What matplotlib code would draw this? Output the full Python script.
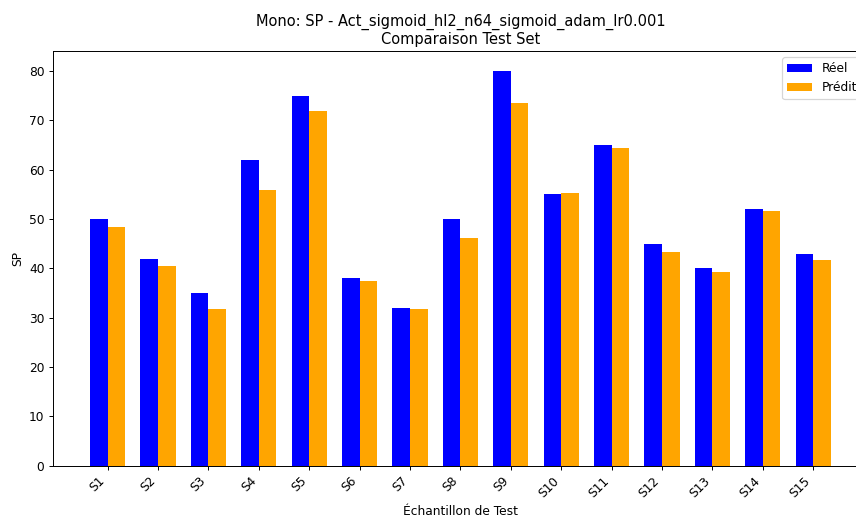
import numpy as np
import matplotlib
matplotlib.use("Agg")
import matplotlib.pyplot as plt

samples = [f"S{i}" for i in range(1, 16)]
reel = [50, 42, 35, 62, 75, 38, 32, 50, 80, 55, 65, 45, 40, 52, 43]
predit = [48.3, 40.5, 31.8, 55.8, 71.8, 37.5, 31.8, 46.1, 73.6, 55.3, 64.4, 43.4, 39.3, 51.7, 41.6]

x = np.arange(len(samples))
width = 0.35

DPI = 88
fig = plt.figure(figsize=(856 / DPI, 515 / DPI), dpi=DPI)
# axes run a little past the right edge, as in the reference
ax = fig.add_axes([0.0619, 0.0957, 0.952, 0.8047])

ax.bar(x - width / 2, reel, width, label="Réel", color="blue")
ax.bar(x + width / 2, predit, width, label="Prédit", color="orange")

ax.set_xticks(x)
ax.set_xticklabels(samples, rotation=45, ha="right")
ax.set_xlabel("Échantillon de Test")
ax.set_ylabel("SP")
ax.set_title("Mono: SP - Act_sigmoid_hl2_n64_sigmoid_adam_lr0.001\nComparaison Test Set")
ax.legend(loc="upper right")

fig.savefig("out.png", dpi=DPI)
